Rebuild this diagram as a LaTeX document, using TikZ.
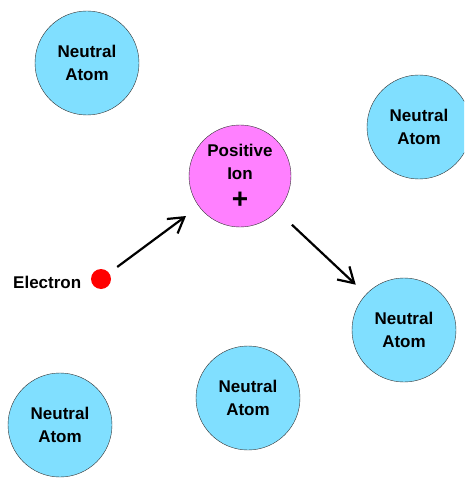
\documentclass[tikz,border=0pt]{standalone}
\usepackage{fontspec}
\setmainfont{Liberation Sans}
\usetikzlibrary{arrows.meta}
\definecolor{atomblue}{RGB}{128,223,255}
\definecolor{ionpink}{RGB}{255,128,255}

\begin{document}
\begin{tikzpicture}[
  x=1pt, y=-1pt,
  atom/.style={circle, draw=black!80, fill=atomblue, minimum size=104pt,
               inner sep=0pt, align=center,
               font=\fontsize{17}{23}\selectfont\bfseries},
  ion/.style={atom, fill=ionpink, minimum size=102pt},
  dot/.style={circle, fill=red, minimum size=20pt, inner sep=0pt},
  lbl/.style={font=\fontsize{17}{23}\selectfont\bfseries, inner sep=0pt,
              anchor=west},
  arr/.style={-{Straight Barb[length=15pt,width=18pt]}, line width=2.2pt}
]
\useasboundingbox (0,0) rectangle (464,478);
\clip (0,0) rectangle (464,478);

\node[atom] (atomTL) at (87,63)   {Neutral\\Atom};
\node[atom] (atomTR) at (419,127) {Neutral\\Atom};
\node[ion]  (ion)    at (240,176) {Positive\\Ion\\[6pt]{\fontsize{28}{23}\selectfont +}};
\node[atom] (atomR)  at (404,330) {Neutral\\Atom};
\node[atom] (atomB)  at (248,398) {Neutral\\Atom};
\node[atom] (atomBL) at (60,425)  {Neutral\\Atom};

\node[dot] (electron) at (101,279) {};
\node[lbl] (elabel)   at (13,282)  {Electron};

\draw[arr, shorten <=10pt, shorten >=16pt] (electron) -- (ion);
\draw[arr, shorten <=20pt, shorten >=14pt] (ion) -- (atomR);

\end{tikzpicture}
\end{document}
